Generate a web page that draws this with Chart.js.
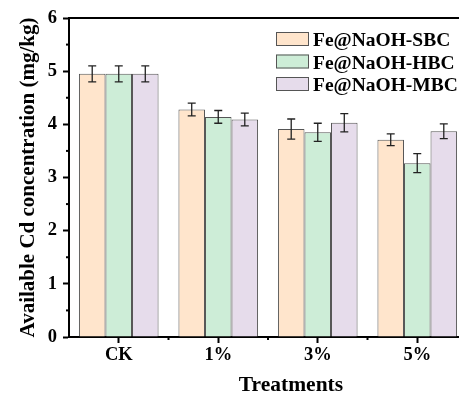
<!DOCTYPE html>
<html>
<head>
<meta charset="utf-8">
<script src="https://cdn.jsdelivr.net/npm/chart.js@4.4.0/dist/chart.umd.min.js"></script>
<style>
  html, body { margin: 0; padding: 0; background: #fff; overflow: hidden; }
  #canvas { display: block; }
</style>
</head>
<body>
<canvas id="canvas" width="470" height="394"></canvas>
<script>
// chart values
var categories = ["CK", "1%", "3%", "5%"];
var seriesNames = ["Fe@NaOH-SBC", "Fe@NaOH-HBC", "Fe@NaOH-MBC"];
var sbcValues = [4.95, 4.28, 3.91, 3.71];
var sbcErrors = [0.15, 0.12, 0.19, 0.11];
var hbcValues = [4.95, 4.14, 3.85, 3.27];
var hbcErrors = [0.15, 0.12, 0.17, 0.18];
var mbcValues = [4.95, 4.09, 4.03, 3.87];
var mbcErrors = [0.15, 0.12, 0.17, 0.14];
var yTicks = [0, 1, 2, 3, 4, 5, 6];

var fillColors = ["#FFE5CC", "#CDEDD7", "#E6DCEB"];
var serifFont = "'Liberation Serif', 'Times New Roman', serif";

//error bars drawn on top of each bar
var errorBarPlugin = {
  id: "errorBars",
  afterDatasetsDraw: function (chart) {
    var ctx = chart.ctx;
    var yScale = chart.scales.y;
    ctx.save();
    ctx.strokeStyle = "#222";
    ctx.lineWidth = 1.3;
    chart.data.datasets.forEach(function (ds, i) {
      var meta = chart.getDatasetMeta(i);
      meta.data.forEach(function (bar, j) {
        var v = ds.data[j];
        var e = ds.errors[j];
        var top = yScale.getPixelForValue(v + e);
        var bot = yScale.getPixelForValue(v - e);
        ctx.beginPath();
        ctx.moveTo(bar.x, top);
        ctx.lineTo(bar.x, bot);
        ctx.moveTo(bar.x - 4, top);
        ctx.lineTo(bar.x + 4, top);
        ctx.moveTo(bar.x - 4, bot);
        ctx.lineTo(bar.x + 4, bot);
        ctx.stroke();
      });
    });
    ctx.restore();
  }
};

//frame line on top, minor ticks, x title and legend
var framePlugin = {
  id: "frame",
  afterDraw: function (chart) {
    var ctx = chart.ctx;
    var area = chart.chartArea;
    var xScale = chart.scales.x;
    var yScale = chart.scales.y;
    ctx.save();
    ctx.strokeStyle = "#000";
    ctx.lineWidth = 2;
    ctx.beginPath();
    ctx.moveTo(area.left - 1, area.top);
    ctx.lineTo(area.right, area.top);
    ctx.stroke();

    // minor ticks on y
    for (var k = 0; k < yTicks.length - 1; k++) {
      var py = yScale.getPixelForValue(yTicks[k] + 0.5);
      ctx.beginPath();
      ctx.moveTo(area.left, py);
      ctx.lineTo(area.left - 3, py);
      ctx.stroke();
    }
    // minor ticks on x between categories
    for (var c = 0; c < categories.length - 1; c++) {
      var px = (xScale.getPixelForValue(c) + xScale.getPixelForValue(c + 1)) / 2;
      ctx.beginPath();
      ctx.moveTo(px, area.bottom);
      ctx.lineTo(px, area.bottom + 3);
      ctx.stroke();
    }

    // x axis title
    ctx.fillStyle = "#000";
    ctx.font = "bold 21.5px " + serifFont;
    ctx.textAlign = "center";
    ctx.textBaseline = "alphabetic";
    ctx.fillText("Treatments", 291, 391);

    // legend
    ctx.font = "bold 19.5px " + serifFont;
    ctx.textAlign = "left";
    ctx.lineWidth = 1;
    chart.data.datasets.forEach(function (ds, i) {
      var by = 32 + i * 22.5;
      ctx.fillStyle = ds.backgroundColor;
      ctx.fillRect(276, by, 33, 14);
      ctx.strokeStyle = "#555";
      ctx.strokeRect(276.5, by + 0.5, 32, 13);
      ctx.fillStyle = "#000";
      ctx.fillText(ds.label, 313, by + 14);
    });
    ctx.restore();
  }
};

function makeDataset(i, values, errors) {
  return {
    label: seriesNames[i],
    data: values,
    errors: errors,
    backgroundColor: fillColors[i],
    borderColor: "#555",
    borderWidth: 1,
    categoryPercentage: 0.8,
    barPercentage: 1.0
  };
}

var ctx = document.getElementById("canvas");
var chart = new Chart(ctx, {
  type: "bar",
  data: {
    labels: categories,
    datasets: [
      makeDataset(0, sbcValues, sbcErrors),
      makeDataset(1, hbcValues, hbcErrors),
      makeDataset(2, mbcValues, mbcErrors)
    ]
  },
  options: {
    responsive: false,
    animation: false,
    events: [],
    layout: { padding: { top: 18, right: 3, left: 0, bottom: 0 } },
    plugins: {
      legend: { display: false },
      tooltip: { enabled: false }
    },
    scales: {
      x: {
        afterFit: function (scale) { scale.height = 57; },
        grid: {
          offset: false,
          drawOnChartArea: false,
          drawTicks: true,
          tickLength: 6,
          tickWidth: 2,
          tickColor: "#000"
        },
        border: { color: "#000", width: 2 },
        ticks: {
          color: "#000",
          padding: 1,
          maxRotation: 0,
          font: { family: serifFont, size: 18.5, weight: "bold" }
        }
      },
      y: {
        min: 0,
        max: 6,
        afterFit: function (scale) { scale.width = 69; },
        afterBuildTicks: function (scale) {
          scale.ticks = yTicks.map(function (v) { return { value: v }; });
        },
        grid: {
          drawOnChartArea: false,
          drawTicks: true,
          tickLength: 6,
          tickWidth: 2,
          tickColor: "#000"
        },
        border: { color: "#000", width: 2 },
        ticks: {
          color: "#000",
          padding: 6,
          font: { family: serifFont, size: 18.5, weight: "bold" }
        },
        title: {
          display: true,
          text: "Available Cd concentration (mg/kg)",
          color: "#000",
          padding: { top: 16, bottom: 0 },
          font: { family: serifFont, size: 21, weight: "bold" }
        }
      }
    }
  },
  plugins: [errorBarPlugin, framePlugin]
});
</script>
</body>
</html>
